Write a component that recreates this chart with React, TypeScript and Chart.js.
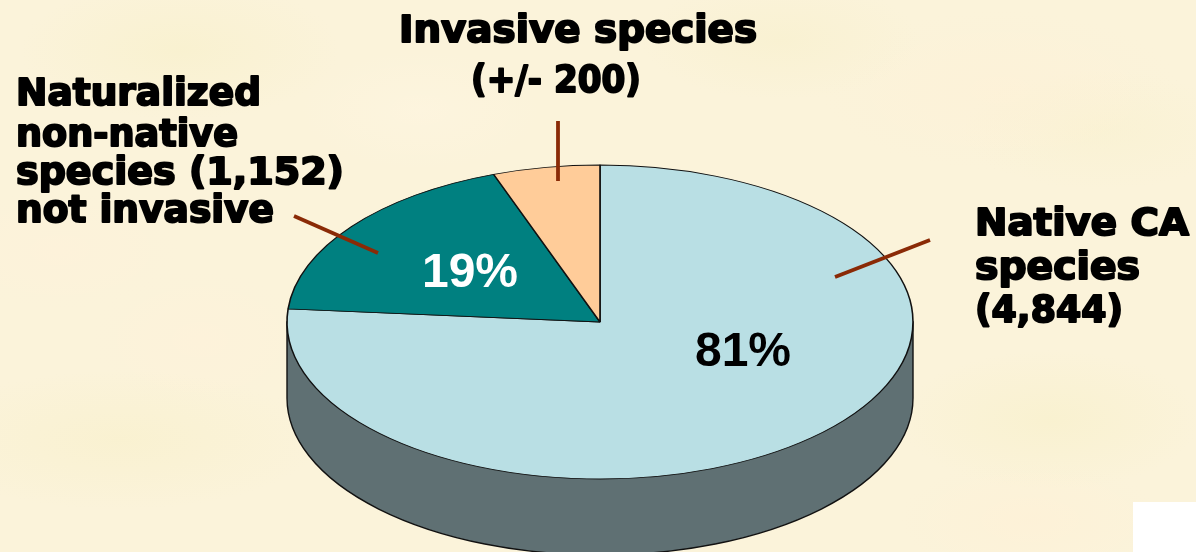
import React, { useEffect, useRef } from "react";
import { Chart, registerables } from "chart.js";

Chart.register(...registerables);

const categories = ["Native CA species", "Naturalized non-native species", "Invasive species"];
const speciesCounts = [4844, 1152, 350];
const sliceColors = ["#b9dfe4", "#008080", "#ffcc99"];

const labelFont = 'bold 37px "DejaVu Sans"';
const pctFont = 'bold 48px "Liberation Sans"';

const labels = [
  { text: "Invasive species", x: 578, y: 42, font: labelFont, color: "#000", align: "center", w: 358 },
  { text: "(+/- 200)", x: 556, y: 92, font: labelFont, color: "#000", align: "center", w: 170 },
  { text: "Naturalized", x: 16, y: 105, font: labelFont, color: "#000", align: "left", w: 245 },
  { text: "non-native", x: 16, y: 146, font: labelFont, color: "#000", align: "left", w: 222 },
  { text: "species (1,152)", x: 16, y: 184, font: labelFont, color: "#000", align: "left", w: 328 },
  { text: "not invasive", x: 16, y: 222, font: labelFont, color: "#000", align: "left", w: 258 },
  { text: "Native CA", x: 975, y: 235, font: labelFont, color: "#000", align: "left", w: 214 },
  { text: "species", x: 975, y: 279, font: labelFont, color: "#000", align: "left", w: 165 },
  { text: "(4,844)", x: 975, y: 322, font: labelFont, color: "#000", align: "left", w: 148 },
  { text: "19%", x: 470, y: 287, font: pctFont, color: "#fff", align: "center", w: 0 },
  { text: "81%", x: 743, y: 366, font: pctFont, color: "#000", align: "center", w: 0 },
];

const leaders = [
  [558, 121, 558, 181],
  [294, 216, 378, 253],
  [930, 240, 835, 277],
];

const squash = 157 / 313;
const depth = 76;

const pie3d = {
  id: "pie3d",
  beforeDatasetsDraw(chart: any) {
    const ctx = chart.ctx;
    const arc = chart.getDatasetMeta(0).data[0];
    const { x, y, outerRadius: r } = arc;
    ctx.save();
    ctx.beginPath();
    ctx.ellipse(x, y + depth, r, r * squash, 0, 0, Math.PI);
    ctx.lineTo(x - r, y);
    ctx.lineTo(x + r, y);
    ctx.closePath();
    ctx.fillStyle = "#5f7073";
    ctx.strokeStyle = "#111";
    ctx.lineWidth = 1.4;
    ctx.fill();
    ctx.stroke();
    ctx.restore();
    ctx.save();
    ctx.translate(x, y);
    ctx.scale(1, squash);
    ctx.translate(-x, -y);
  },
  afterDatasetsDraw(chart: any) {
    chart.ctx.restore();
  },
  afterDraw(chart: any) {
    const ctx = chart.ctx;
    ctx.save();
    ctx.strokeStyle = "#8a2a06";
    ctx.lineWidth = 3.8;
    for (const [a, b, c, d] of leaders) {
      ctx.beginPath();
      ctx.moveTo(a, b);
      ctx.lineTo(c, d);
      ctx.stroke();
    }
    ctx.textBaseline = "alphabetic";
    for (const l of labels) {
      ctx.font = l.font;
      ctx.fillStyle = l.color;
      ctx.strokeStyle = l.color;
      ctx.lineJoin = "round";
      ctx.textAlign = l.align as CanvasTextAlign;
      if (l.w) {
        const k = l.w / ctx.measureText(l.text).width;
        ctx.save();
        ctx.translate(l.x, l.y);
        ctx.scale(k, 1);
        ctx.lineWidth = 2;
        ctx.fillText(l.text, 0, 0);
        ctx.strokeText(l.text, 0, 0);
        ctx.restore();
      } else {
        ctx.fillText(l.text, l.x, l.y);
      }
    }
    ctx.restore();
  },
};

const parchment = [
  "radial-gradient(ellipse 160px 70px at 180px 50px, rgba(245,238,190,.35), transparent)",
  "radial-gradient(ellipse 120px 60px at 60px 250px, rgba(255,241,218,.5), transparent)",
  "radial-gradient(ellipse 180px 80px at 1000px 90px, rgba(255,240,214,.45), transparent)",
  "radial-gradient(ellipse 200px 70px at 120px 440px, rgba(246,238,192,.35), transparent)",
  "radial-gradient(ellipse 150px 70px at 1050px 420px, rgba(245,238,190,.35), transparent)",
  "radial-gradient(ellipse 130px 60px at 1030px 520px, rgba(255,240,214,.6), transparent)",
  "radial-gradient(ellipse 140px 60px at 780px 40px, rgba(245,238,195,.35), transparent)",
  "radial-gradient(ellipse 110px 70px at 200px 340px, rgba(255,241,218,.5), transparent)",
  "radial-gradient(ellipse 120px 60px at 420px 110px, rgba(255,246,226,.5), transparent)",
  "radial-gradient(ellipse 140px 60px at 1100px 130px, rgba(246,240,198,.3), transparent)",
].join(",");

export default function App() {
  const ref = useRef<HTMLCanvasElement>(null);
  useEffect(() => {
    const chart = new Chart(ref.current!, {
      type: "pie",
      data: {
        labels: categories,
        datasets: [
          {
            data: speciesCounts,
            backgroundColor: sliceColors,
            borderColor: "#111",
            borderWidth: 1.6,
            clip: false,
          } as any,
        ],
      },
      options: {
        responsive: false,
        animation: false,
        events: [],
        radius: 313,
        layout: { padding: { top: 92, left: 4, right: 0, bottom: 0 } },
        plugins: { legend: { display: false }, tooltip: { enabled: false } },
      } as any,
      plugins: [pie3d],
    });
    return () => chart.destroy();
  }, []);
  return (
    <div
      style={{
        position: "fixed",
        left: 0,
        top: 0,
        width: 1196,
        height: 552,
        overflow: "hidden",
        backgroundColor: "#fbf3da",
        backgroundImage: parchment,
      }}
    >
      <canvas ref={ref} width={1196} height={552} style={{ display: "block", position: "absolute", left: 0, top: 0 }} />
      <div style={{ position: "absolute", left: 1133, top: 502, width: 63, height: 50, background: "#fff" }} />
    </div>
  );
}
